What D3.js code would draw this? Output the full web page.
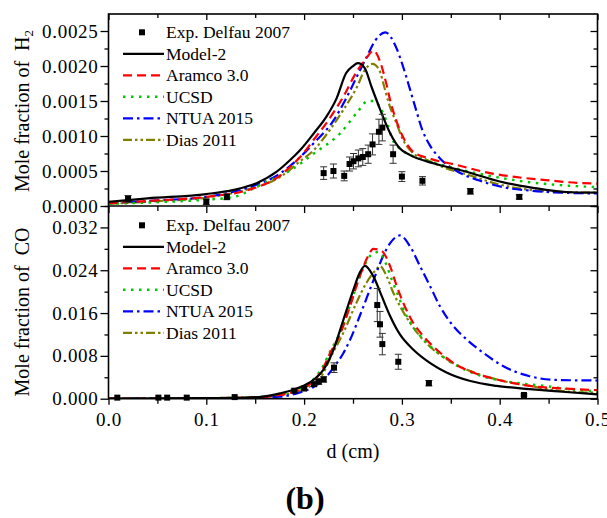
<!DOCTYPE html>
<html>
<head>
<meta charset="utf-8">
<script src="https://cdn.jsdelivr.net/npm/d3@7"></script>
<style>
  body { margin: 0; background: #fff; }
  svg { display: block; }
</style>
</head>
<body>
<svg id="chart" width="607" height="518"></svg>
<script>
// ---- data: distance d (cm) vs mole fraction ----
const legendNames = ["Exp. Delfau 2007", "Model-2", "Aramco 3.0", "UCSD", "NTUA 2015", "Dias 2011"];
const xTicks = [0, 0.1, 0.2, 0.3, 0.4, 0.5];
const xTickLabels = ["0.0", "0.1", "0.2", "0.3", "0.4", "0.5"];
const h2Ticks = [0, 0.0005, 0.0010, 0.0015, 0.0020, 0.0025];
const h2TickLabels = ["0.0000", "0.0005", "0.0010", "0.0015", "0.0020", "0.0025"];
const coTicks = [0, 0.008, 0.016, 0.024, 0.032];
const coTickLabels = ["0.000", "0.008", "0.016", "0.024", "0.032"];

// H2 — measured [d, value, error]
const h2Exp = [
  [0.020, 0.00010, 0.00005], [0.100, 0.00006, 0.00004], [0.121, 0.00013, 0.00004],
  [0.220, 0.00047, 0.00009], [0.230, 0.00050, 0.00010], [0.241, 0.00043, 0.00007],
  [0.2465, 0.00060, 0.00010], [0.2505, 0.00064, 0.00011], [0.2555, 0.00068, 0.00012],
  [0.260, 0.00070, 0.00012], [0.2655, 0.00074, 0.00013], [0.270, 0.00088, 0.00015],
  [0.2765, 0.00106, 0.00018], [0.280, 0.00112, 0.00019], [0.291, 0.00074, 0.00013],
  [0.300, 0.00042, 0.00007], [0.321, 0.00036, 0.00006], [0.370, 0.00021, 0.00004],
  [0.420, 0.00013, 0.00003]
];
// H2 — model profiles [d, value]
const h2Model2 = [
  [0, 0.00006], [0.04, 0.00011], [0.1, 0.00017], [0.128, 0.00023], [0.152, 0.00033],
  [0.172, 0.00049], [0.186, 0.00066], [0.196, 0.0008], [0.21, 0.00104], [0.223, 0.00128],
  [0.233, 0.00153], [0.243, 0.0019], [0.25, 0.002], [0.255, 0.00204], [0.262, 0.00197],
  [0.269, 0.0017], [0.278, 0.00137], [0.288, 0.00104], [0.298, 0.00082], [0.308, 0.00073],
  [0.332, 0.00061], [0.366, 0.00049], [0.4, 0.00035], [0.434, 0.00026], [0.468, 0.0002], [0.5, 0.00019]
];
const h2Aramco = [
  [0, 0.00004], [0.05, 0.00008], [0.1, 0.00013], [0.15, 0.00026], [0.175, 0.00043],
  [0.188, 0.00059], [0.196, 0.0007], [0.21, 0.00095], [0.225, 0.00123], [0.24, 0.00156],
  [0.253, 0.0019], [0.263, 0.0021], [0.271, 0.00222], [0.278, 0.00205], [0.284, 0.00175],
  [0.288, 0.00151], [0.294, 0.00123], [0.301, 0.00099], [0.311, 0.00078], [0.328, 0.00068],
  [0.355, 0.00059], [0.39, 0.00047], [0.413, 0.00042], [0.447, 0.00037], [0.48, 0.00033], [0.5, 0.00032]
];
const h2Ucsd = [
  [0, 0.00003], [0.06, 0.00006], [0.1, 0.00009], [0.128, 0.00013], [0.158, 0.00032],
  [0.186, 0.00051], [0.21, 0.00075], [0.237, 0.00104], [0.255, 0.00135], [0.265, 0.0015],
  [0.272, 0.0015], [0.278, 0.0014], [0.285, 0.00118], [0.29, 0.00096], [0.298, 0.00082],
  [0.31, 0.00072], [0.33, 0.00063], [0.36, 0.00052], [0.39, 0.00043], [0.43, 0.00034],
  [0.47, 0.00029], [0.5, 0.00027]
];
const h2Ntua = [
  [0, 0.00004], [0.05, 0.00008], [0.1, 0.00013], [0.14, 0.00025], [0.176, 0.00047],
  [0.196, 0.0007], [0.21, 0.0009], [0.23, 0.00122], [0.242, 0.00151], [0.254, 0.00185],
  [0.264, 0.00213], [0.273, 0.00237], [0.283, 0.00248], [0.2946, 0.00225], [0.301, 0.002],
  [0.308, 0.00168], [0.315, 0.00135], [0.321, 0.00108], [0.328, 0.00088], [0.339, 0.00068],
  [0.356, 0.0005], [0.38, 0.00036], [0.403, 0.00027], [0.431, 0.00022], [0.464, 0.00019], [0.5, 0.00018]
];
const h2Dias = [
  [0, 0.00003], [0.05, 0.00007], [0.1, 0.00012], [0.14, 0.00023], [0.176, 0.00042],
  [0.196, 0.00064], [0.21, 0.0008], [0.227, 0.0011], [0.24, 0.00137], [0.254, 0.0017],
  [0.262, 0.00194], [0.27, 0.00203], [0.277, 0.00194], [0.282, 0.0017], [0.287, 0.00145],
  [0.294, 0.0012], [0.301, 0.00095], [0.311, 0.00076], [0.325, 0.00066], [0.345, 0.00054],
  [0.369, 0.00044], [0.396, 0.00032], [0.431, 0.00023], [0.464, 0.0002], [0.5, 0.00019]
];

// CO — measured [d, value, error]
const coExp = [
  [0.009, 0.0002, 0], [0.051, 0.0002, 0], [0.060, 0.0002, 0], [0.080, 0.0002, 0],
  [0.129, 0.0003, 0], [0.190, 0.0015, 0.0003], [0.200, 0.0019, 0.0003], [0.210, 0.0027, 0.0004],
  [0.215, 0.0032, 0.0005], [0.220, 0.0036, 0.0005], [0.2306, 0.0058, 0.0009],
  [0.2748, 0.0175, 0.0031], [0.2776, 0.0139, 0.0024], [0.280, 0.0102, 0.0020],
  [0.2963, 0.0069, 0.0014], [0.3276, 0.0029, 0.0005], [0.4248, 0.0007, 0.0002]
];
// CO — model profiles [d, value]
const coModel2 = [
  [0, 0], [0.1, 0.0001], [0.14, 0.0002], [0.158, 0.0004], [0.1755, 0.001], [0.1926, 0.0019],
  [0.2095, 0.0035], [0.2197, 0.0054], [0.2299, 0.0091], [0.2401, 0.0147], [0.2503, 0.0203],
  [0.2571, 0.0236], [0.2622, 0.0248], [0.2707, 0.0229], [0.2793, 0.0192], [0.2878, 0.0155],
  [0.298, 0.012], [0.3115, 0.0092], [0.3286, 0.0067], [0.3456, 0.0049], [0.37, 0.0033],
  [0.3966, 0.0024], [0.4306, 0.0018], [0.4646, 0.0013], [0.5, 0.0008]
];
const coAramco = [
  [0, 0], [0.1, 0.0001], [0.14, 0.0002], [0.1755, 0.0007], [0.1926, 0.0015], [0.2095, 0.0033],
  [0.2197, 0.0058], [0.226, 0.0083], [0.2367, 0.012], [0.247, 0.0173], [0.257, 0.0229],
  [0.2656, 0.0267], [0.2707, 0.028], [0.2793, 0.0276], [0.2878, 0.0248], [0.2946, 0.0211],
  [0.3014, 0.0179], [0.3115, 0.0142], [0.3218, 0.0117], [0.3354, 0.0092], [0.3524, 0.0067],
  [0.3728, 0.0049], [0.3966, 0.0036], [0.4306, 0.0024], [0.4646, 0.0019], [0.5, 0.0016]
];
const coUcsd = [
  [0, 0], [0.1, 0.0001], [0.14, 0.0002], [0.1755, 0.0008], [0.1926, 0.0017], [0.2095, 0.0036],
  [0.2197, 0.0062], [0.226, 0.0086], [0.2367, 0.0123], [0.247, 0.0175], [0.257, 0.0228],
  [0.2656, 0.0262], [0.2707, 0.0272], [0.2759, 0.0274], [0.2827, 0.0256], [0.2895, 0.0223],
  [0.2963, 0.0192], [0.3031, 0.0161], [0.3133, 0.013], [0.3235, 0.0108], [0.3367, 0.0086],
  [0.3538, 0.0064], [0.3673, 0.0052], [0.3878, 0.0039], [0.4116, 0.0031], [0.4456, 0.0024],
  [0.4796, 0.0016], [0.5, 0.0014]
];
const coNtua = [
  [0, 0], [0.1, 0], [0.14, 0.0001], [0.1755, 0.0004], [0.1926, 0.001], [0.2095, 0.0022],
  [0.2197, 0.0035], [0.23, 0.0058], [0.2401, 0.0085], [0.247, 0.011], [0.257, 0.0155],
  [0.2673, 0.0204], [0.274, 0.0236], [0.2809, 0.0267], [0.2878, 0.029], [0.298, 0.0305],
  [0.3082, 0.0285], [0.3184, 0.0248], [0.3286, 0.0211], [0.3388, 0.0173], [0.3524, 0.0136],
  [0.366, 0.0111], [0.383, 0.0086], [0.4034, 0.0061], [0.4306, 0.0042], [0.4578, 0.0035], [0.5, 0.0034]
];
const coDias = [
  [0, 0], [0.1, 0.0001], [0.14, 0.0002], [0.1755, 0.0006], [0.1926, 0.0013], [0.2095, 0.0028],
  [0.2197, 0.0048], [0.2265, 0.0075], [0.2401, 0.0123], [0.2537, 0.018], [0.2639, 0.0217],
  [0.2741, 0.0242], [0.2776, 0.0248], [0.2844, 0.0229], [0.2912, 0.0198], [0.298, 0.0173],
  [0.3082, 0.0142], [0.3184, 0.0117], [0.332, 0.0092], [0.349, 0.007], [0.3694, 0.0052],
  [0.3966, 0.0036], [0.4306, 0.0024], [0.4646, 0.0014], [0.5, 0.0011]
];

// ---- styles ----
const FONT = "'Liberation Serif', Tinos, 'Times New Roman', Times, 'DejaVu Serif', serif";
const lineStyles = [
  { color: "#000000", dash: null,              width: 2.2 },  // Model-2
  { color: "#ff0000", dash: "9,5",             width: 2.2 },  // Aramco 3.0
  { color: "#00c800", dash: "2.5,5.5",         width: 2.4 },  // UCSD
  { color: "#0000ff", dash: "10,4,2.5,4",      width: 2.2 },  // NTUA 2015
  { color: "#808000", dash: "9,3,2.5,3,2.5,3", width: 2.2 }   // Dias 2011
];

const svg = d3.select("#chart").style("font-family", FONT);
const L = 108.5, R = 597.5, T = 14, M = 206, B = 398.7;

const x = d3.scaleLinear().domain([0, 0.5]).range([L, R]);
const yH2 = d3.scaleLinear().domain([0, 0.002743]).range([M, T]);
const yCO = d3.scaleLinear().domain([0, 0.036]).range([B, M]);

const panels = [
  { y: yH2, top: T, bottom: M, exp: h2Exp, models: [h2Model2, h2Aramco, h2Ucsd, h2Ntua, h2Dias],
    ticks: h2Ticks, labels: h2TickLabels, minorStep: 0.00025, max: 0.00274,
    title: ["Mole fraction of  ", "H", "2"], titleY: 111, legendY: 32.3 },
  { y: yCO, top: M, bottom: B, exp: coExp, models: [coModel2, coAramco, coUcsd, coNtua, coDias],
    ticks: coTicks, labels: coTickLabels, minorStep: 0.004, max: 0.0361,
    title: ["Mole fraction of  ", "CO", null], titleY: 312, legendY: 225.3 }
];

function txt(sel) {
  return sel.style("font-family", FONT).attr("fill", "#000");
}

function styleAxis(g, fontSize) {
  g.attr("font-family", null);
  g.select(".domain").remove();
  g.selectAll(".tick line").attr("stroke", "#000").attr("stroke-width", 1.3);
  txt(g.selectAll(".tick text")).attr("font-size", fontSize).attr("letter-spacing", "0.7px");
}

const xMajor = xTicks;
const xMinor = [0.05, 0.15, 0.25, 0.35, 0.45];

panels.forEach((p, pi) => {
  const clipId = "clip" + pi;
  svg.append("clipPath").attr("id", clipId).append("rect")
    .attr("x", L).attr("y", p.top - 2).attr("width", R - L).attr("height", p.bottom - p.top + 2);

  // y axis: left (outward, labelled) and right (inward)
  const minor = d3.range(0, p.max, p.minorStep).filter(v => !p.ticks.some(t => Math.abs(t - v) < 1e-9));
  const gl = svg.append("g").attr("transform", `translate(${L},0)`)
    .call(d3.axisLeft(p.y).tickValues(p.ticks).tickSize(8).tickPadding(2)
      .tickFormat((d, i) => p.labels[i]));
  styleAxis(gl, 19);
  styleAxis(svg.append("g").attr("transform", `translate(${L},0)`)
    .call(d3.axisLeft(p.y).tickValues(minor).tickSize(4).tickFormat("")), 19);
  styleAxis(svg.append("g").attr("transform", `translate(${R},0)`)
    .call(d3.axisLeft(p.y).tickValues(p.ticks).tickSize(7).tickFormat("")), 19);
  styleAxis(svg.append("g").attr("transform", `translate(${R},0)`)
    .call(d3.axisLeft(p.y).tickValues(minor).tickSize(4).tickFormat("")), 19);

  // model curves
  const line = d3.line().x(d => x(d[0])).y(d => p.y(d[1])).curve(d3.curveMonotoneX);
  const cg = svg.append("g").attr("clip-path", `url(#${clipId})`);
  // coloured curves first, black model on top
  [4, 3, 2, 1, 0].forEach(si => {
    const st = lineStyles[si];
    cg.append("path").datum(p.models[si])
      .attr("d", line).attr("fill", "none")
      .attr("stroke", st.color).attr("stroke-width", st.width)
      .attr("stroke-dasharray", st.dash).attr("stroke-linecap", "butt");
  });

  // measured points with error bars
  const eg = svg.append("g");
  p.exp.forEach(d => {
    const cx = x(d[0]);
    if (d[2] > 0) {
      const y1 = p.y(d[1] - d[2]), y2 = p.y(d[1] + d[2]);
      eg.append("line").attr("x1", cx).attr("x2", cx).attr("y1", y1).attr("y2", y2)
        .attr("stroke", "#333").attr("stroke-width", 1);
      [y1, y2].forEach(yy => eg.append("line").attr("x1", cx - 3.5).attr("x2", cx + 3.5)
        .attr("y1", yy).attr("y2", yy).attr("stroke", "#333").attr("stroke-width", 1));
    }
    eg.append("rect").attr("x", cx - 3).attr("y", p.y(d[1]) - 3)
      .attr("width", 6).attr("height", 6).attr("fill", "#000");
  });

  // legend
  const lg = svg.append("g");
  const rowH = 21.5;
  legendNames.forEach((name, i) => {
    const ry = p.legendY + i * rowH;
    if (i === 0) {
      lg.append("rect").attr("x", 139).attr("y", ry - 3).attr("width", 6).attr("height", 6).attr("fill", "#000");
    } else {
      const st = lineStyles[i - 1];
      lg.append("line").attr("x1", 123).attr("x2", 164).attr("y1", ry).attr("y2", ry)
        .attr("stroke", st.color).attr("stroke-width", st.width).attr("stroke-dasharray", st.dash);
    }
    txt(lg.append("text")).attr("x", 166).attr("y", ry + 5.8).attr("font-size", 17.5).text(name);
  });

  // y title
  const t = txt(svg.append("text"))
    .attr("transform", `translate(28.5,${p.titleY}) rotate(-90)`)
    .attr("text-anchor", "middle").attr("font-size", 20).style("white-space", "pre");
  t.append("tspan").text(p.title[0]);
  t.append("tspan").text(p.title[1]);
  if (p.title[2]) t.append("tspan").attr("font-size", 13).attr("dy", 4).text(p.title[2]);
});

// x axes: top of upper panel (inward), shared middle line, bottom (labelled)
[[T, 6, 4], [M, 7, 5]].forEach(([yy, maj, mn]) => {
  styleAxis(svg.append("g").attr("transform", `translate(0,${yy})`)
    .call(d3.axisBottom(x).tickValues(xMajor).tickSize(maj).tickFormat("")), 19);
  styleAxis(svg.append("g").attr("transform", `translate(0,${yy})`)
    .call(d3.axisBottom(x).tickValues(xMinor).tickSize(mn).tickFormat("")), 19);
});
const gb = svg.append("g").attr("transform", `translate(0,${B})`)
  .call(d3.axisBottom(x).tickValues(xMajor).tickSize(6).tickPadding(7.5)
    .tickFormat((d, i) => xTickLabels[i]));
styleAxis(gb, 19);
styleAxis(svg.append("g").attr("transform", `translate(0,${B})`)
  .call(d3.axisBottom(x).tickValues(xMinor).tickSize(5).tickFormat("")), 19);

// frame
svg.append("rect").attr("x", L).attr("y", T).attr("width", R - L).attr("height", B - T)
  .attr("fill", "none").attr("stroke", "#000").attr("stroke-width", 1.6);
svg.append("line").attr("x1", L).attr("x2", R).attr("y1", M).attr("y2", M)
  .attr("stroke", "#000").attr("stroke-width", 1.6);

// x title and panel tag
txt(svg.append("text")).attr("x", (L + R) / 2).attr("y", 457.5).attr("text-anchor", "middle")
  .attr("font-size", 20).text("d (cm)");
txt(svg.append("text")).attr("x", 305).attr("y", 509).attr("text-anchor", "middle")
  .attr("font-size", 32).attr("font-weight", "bold").text("(b)");
</script>
</body>
</html>
